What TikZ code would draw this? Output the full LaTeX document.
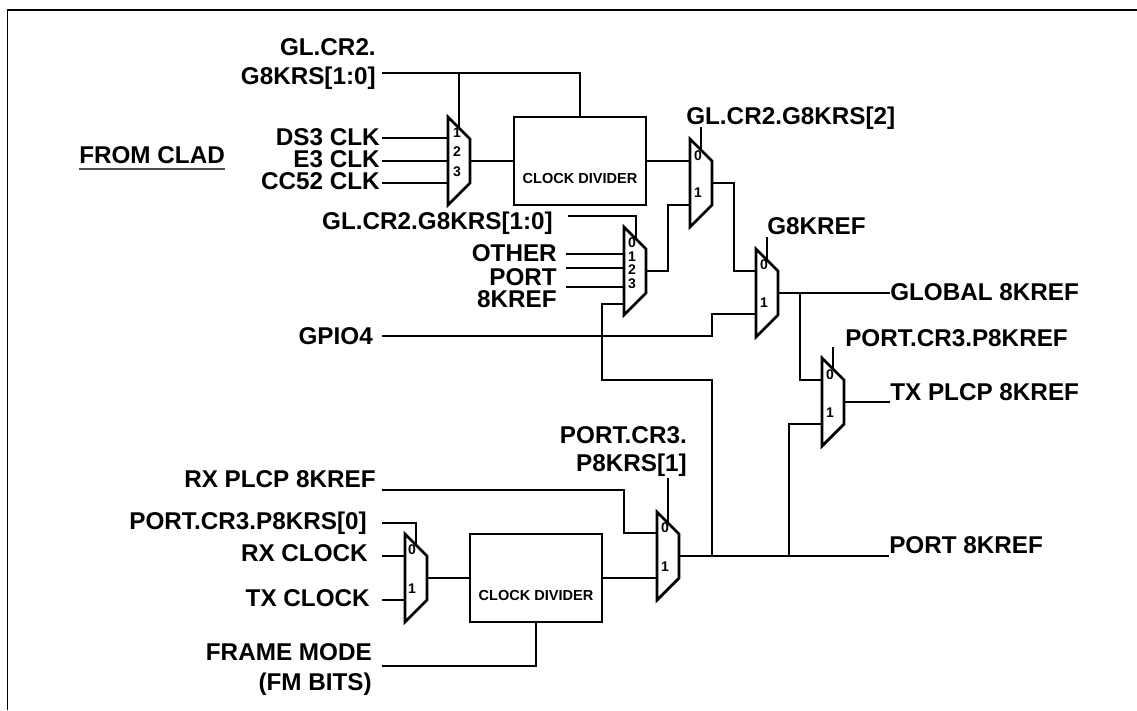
\documentclass[tikz,border=0pt]{standalone}
\usepackage{fontspec}
\setmainfont{Liberation Sans}
\usepackage{tikz}
\tikzset{
  x=0.75pt,y=-0.75pt,
  wire/.style={line width=2.1pt,line join=miter},
  lbl/.style={font=\bfseries\fontsize{18.2}{21}\selectfont,inner sep=0pt,anchor=east,text height=13pt,text depth=0pt},
  lblw/.style={lbl,anchor=west},
  pinno/.style={font=\bfseries\fontsize{10.5}{12}\selectfont,inner sep=0pt},
  divbox/.style={draw,line width=2.1pt,inner sep=0pt,outer sep=0pt,anchor=north west,minimum width=99pt,minimum height=66pt},
  divtext/.style={font=\bfseries\fontsize{10.9}{13}\selectfont,inner sep=0pt},
  muxarea/.style={minimum width=16.5pt,inner sep=0pt,outer sep=0pt}
}
% name, centre x, centre y, length of the straight right side
\newcommand{\muxnode}[4]{%
  \node[muxarea,minimum height={(#4+44)*0.75pt}] (#1) at (#2,#3) {};
  \draw[wire] (#1.north west) -- ++(22,22) -- ++(0,#4) -- (#1.south west) -- cycle;
}
\begin{document}
\begin{tikzpicture}
  \useasboundingbox (0,0) rectangle (1137,710);
  \draw[line width=1.4pt] (7.5,710) -- (7.5,10) -- (1137,10);

  % muxes
  \muxnode{mA}{459}{161}{44}
  \muxnode{mB}{635}{271}{44}
  \muxnode{mC}{701}{183}{44}
  \muxnode{mD}{767}{293}{44}
  \muxnode{mE}{833}{402}{44}
  \muxnode{mF}{668}{556}{44}
  \muxnode{mG}{416}{578}{44}

  % clock dividers
  \node[divbox] (divA) at (514,117) {};
  \node[divtext] (divAt) at (580,178) {CLOCK DIVIDER};
  \node[divbox] (divB) at (470,534) {};
  \node[divtext] (divBt) at (536,595) {CLOCK DIVIDER};

  % wire ends
  \coordinate (lx) at (382,0);
  \coordinate (rx) at (566,0);
  \coordinate (topw) at (382,73);
  \coordinate (mAa) at (448,138);
  \coordinate (mAb) at (448,161);
  \coordinate (mAc) at (448,183);
  \coordinate (mAt) at (459,73);
  \coordinate (mAs) at (459,128);
  \coordinate (mBa) at (624,254);
  \coordinate (mBb) at (624,268);
  \coordinate (mBc) at (624,287);
  \coordinate (mBd) at (624,304);
  \coordinate (mBt) at (568,216);
  \coordinate (mBs) at (636,238);
  \coordinate (mCb) at (690,205);
  \coordinate (mCt) at (701,127);
  \coordinate (mCs) at (701,150);
  \coordinate (mDa) at (756,271);
  \coordinate (mDb) at (756,314);
  \coordinate (mDt) at (767,237);
  \coordinate (mDs) at (767,260);
  \coordinate (mEa) at (822,380);
  \coordinate (mEb) at (822,424);
  \coordinate (mEt) at (833,347);
  \coordinate (mEs) at (833,369);
  \coordinate (mFa) at (657,533);
  \coordinate (mFt) at (668,478);
  \coordinate (mFs) at (668,523);
  \coordinate (mGa) at (405,556);
  \coordinate (mGb) at (405,600);
  \coordinate (mGt) at (382,523);
  \coordinate (mGs) at (416,545);
  \coordinate (fbk) at (602,380);
  \coordinate (gpin) at (382,336);
  \coordinate (bendD) at (712,314);
  \coordinate (jGlob) at (800,293);
  \coordinate (jPortA) at (712,556);
  \coordinate (jPortB) at (789,556);
  \coordinate (rxin) at (382,490);
  \coordinate (bendF) at (624,490);
  \coordinate (fmin) at (382,666);

  % labels on the left
  \node[lbl] (glA) at (376,47) {GL.CR2.};
  \node[lbl] (krsA) at (376,76) {G8KRS[1:0]};
  \node[lbl] (ds3) at (380,137) {DS3 CLK};
  \node[lbl] (e3) at (380,159) {E3 CLK};
  \node[lbl] (cc52) at (380,181) {CC52 CLK};
  \node[lblw] (clad) at (79,155) {FROM CLAD};
  \node[lbl] (krsB) at (553,221) {GL.CR2.G8KRS[1:0]};
  \node[lbl] (other) at (557,253) {OTHER};
  \node[lbl] (port) at (557,277) {PORT};
  \node[lbl] (kref) at (557,299) {8KREF};
  \node[lbl] (gpio) at (373,336) {GPIO4};
  \node[lbl] (rxp) at (376,479) {RX PLCP 8KREF};
  \node[lbl] (krsD) at (367,521) {PORT.CR3.P8KRS[0]};
  \node[lbl] (rxc) at (368,553) {RX CLOCK};
  \node[lbl] (txc) at (370,598) {TX CLOCK};
  \node[lbl] (fm) at (372,652) {FRAME MODE};
  \node[lbl] (fmb) at (372,682) {(FM BITS)};
  \node[lbl] (krsE) at (687,435) {PORT.CR3.};
  \node[lbl] (krsF) at (687,463) {P8KRS[1]};

  % labels on top and on the right
  \node[lblw] (krsC) at (686,116) {GL.CR2.G8KRS[2]};
  \node[lblw] (g8) at (767,226) {G8KREF};
  \node[lblw] (glob) at (890,292) {GLOBAL 8KREF};
  \node[lblw] (p8) at (845,338) {PORT.CR3.P8KREF};
  \node[lblw] (tx) at (890,392) {TX PLCP 8KREF};
  \node[lblw] (pt) at (889,545) {PORT 8KREF};

  % pin numbers
  \node[pinno] (nA1) at (457,133) {1};
  \node[pinno] (nA2) at (457,152) {2};
  \node[pinno] (nA3) at (457,172) {3};
  \node[pinno] (nB0) at (632,243) {0};
  \node[pinno] (nB1) at (632,257) {1};
  \node[pinno] (nB2) at (632,270) {2};
  \node[pinno] (nB3) at (632,284) {3};
  \node[pinno] (nC0) at (698,156) {0};
  \node[pinno] (nC1) at (698,193) {1};
  \node[pinno] (nD0) at (764,265) {0};
  \node[pinno] (nD1) at (764,303) {1};
  \node[pinno] (nE0) at (830,375) {0};
  \node[pinno] (nE1) at (830,413) {1};
  \node[pinno] (nF0) at (665,528) {0};
  \node[pinno] (nF1) at (665,567) {1};
  \node[pinno] (nG0) at (412,550) {0};
  \node[pinno] (nG1) at (412,589) {1};

  \draw[line width=1.5pt,black!70] ([yshift=-3.5pt]clad.south west) -- ([yshift=-3.5pt]clad.south east);

  % top mux and divider
  \draw[wire] (topw) -| (divA.north);
  \draw[wire] (mAt) -- (mAs);
  \draw[wire] (lx |- mAa) -- (mAa);
  \draw[wire] (lx |- mAb) -- (mAb);
  \draw[wire] (lx |- mAc) -- (mAc);
  \draw[wire] (mA.east) -- (divA.west);
  \draw[wire] (divA.east) -- (divA.east -| mC.west);

  % select mux
  \draw[wire] (mBt) -| (mBs);
  \draw[wire] (rx |- mBa) -- (mBa);
  \draw[wire] (rx |- mBb) -- (mBb);
  \draw[wire] (rx |- mBc) -- (mBc);
  \draw[wire] (mBd) -| (fbk) -| (jPortA);
  \draw[wire] (mB.east) -- ++(22,0) |- (mCb);
  \draw[wire] (mC.east) -- ++(22,0) |- (mDa);
  \draw[wire] (mCt) -- (mCs);
  \draw[wire] (mDt) -- (mDs);
  \draw[wire] (mEt) -- (mEs);

  % gpio input
  \draw[wire] (gpin) -| (bendD) -- (mDb);

  % outputs
  \draw[wire] (mD.east) -- (glob.west |- mD.east);
  \draw[wire] (jGlob) |- (mEa);
  \draw[wire] (mE.east) -- (tx.west |- mE.east);
  \draw[wire] (jPortB) |- (mEb);
  \draw[wire] (mF.east) -- (pt.west |- mF.east);

  % bottom part
  \draw[wire] (rxin) -- (bendF) |- (mFa);
  \draw[wire] (mFt) -- (mFs);
  \draw[wire] (mGt) -| (mGs);
  \draw[wire] (lx |- mGa) -- (mGa);
  \draw[wire] (lx |- mGb) -- (mGb);
  \draw[wire] (mG.east) -- (divB.west);
  \draw[wire] (divB.east) -- (divB.east -| mF.west);
  \draw[wire] (fmin) -| (divB.south);
\end{tikzpicture}
\end{document}
